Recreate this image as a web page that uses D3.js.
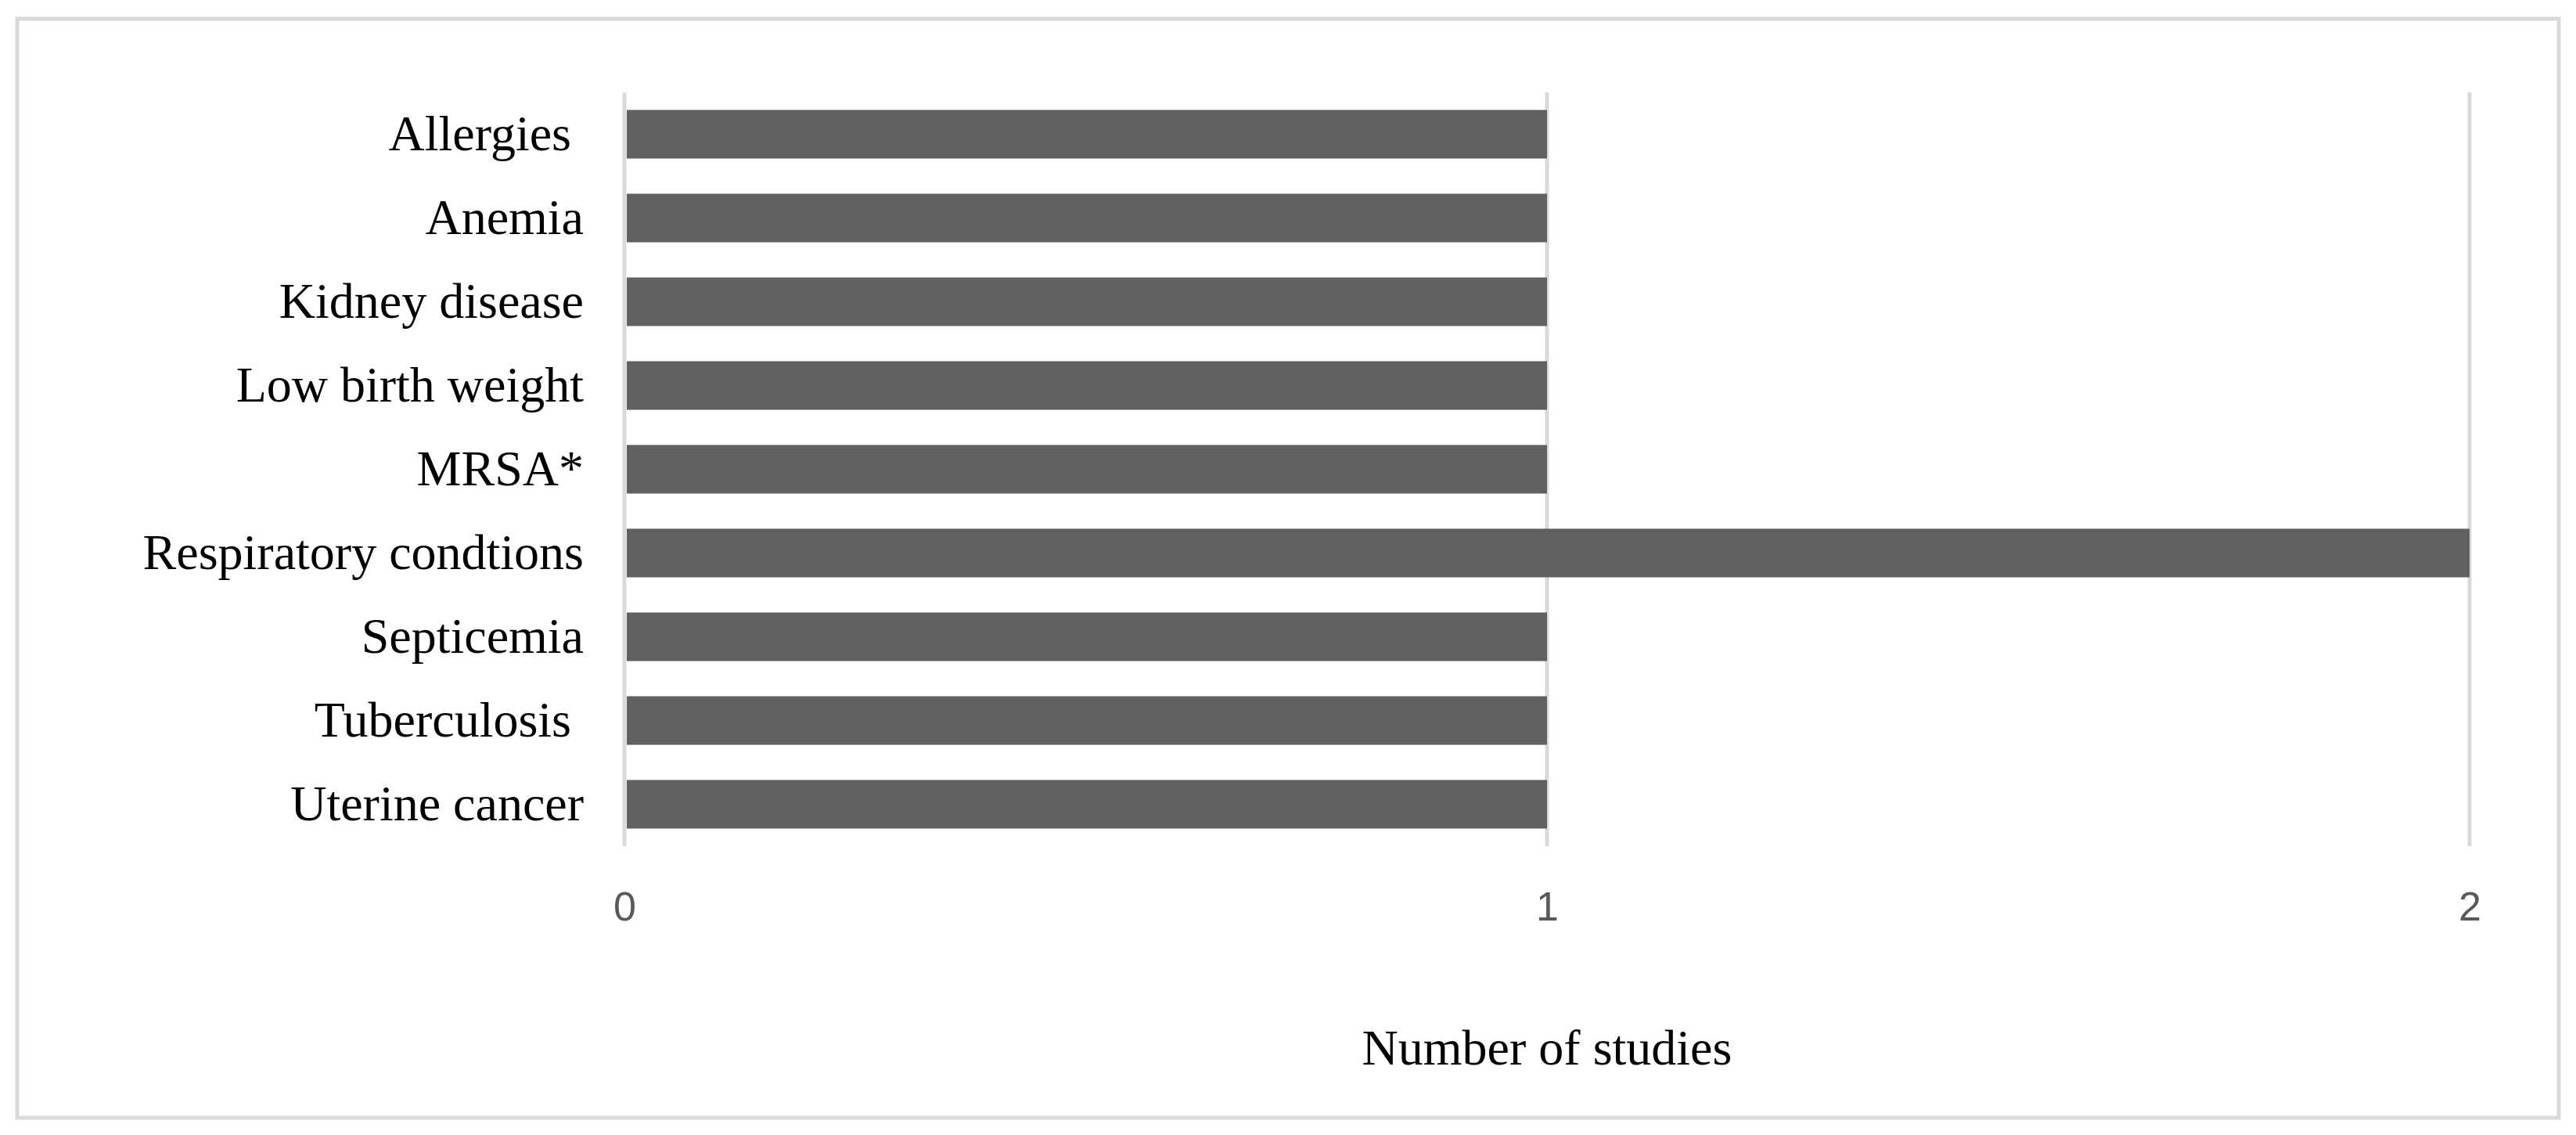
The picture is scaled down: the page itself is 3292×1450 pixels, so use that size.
<!DOCTYPE html>
<html>
<head>
<meta charset="utf-8">
<script src="https://cdn.jsdelivr.net/npm/d3@7"></script>
<style>body{margin:0;background:#fff;}</style>
</head>
<body>
<div id="chart"></div>
<script>
// data
var conditions = ["Allergies ", "Anemia", "Kidney disease", "Low birth weight", "MRSA*",
    "Respiratory condtions", "Septicemia", "Tuberculosis ", "Uterine cancer"];
var studies = [1, 1, 1, 1, 1, 2, 1, 1, 1];
var xTicks = [0, 1, 2];

var svgWidth = 3292, svgHeight = 1450;
var margins = {top: 118, right: 136, bottom: 369, left: 798};
var chartWidth = svgWidth - margins.left - margins.right;
var chartHeight = svgHeight - margins.top - margins.bottom;

var svg = d3.select("#chart").append("svg")
    .attr("width", svgWidth)
    .attr("height", svgHeight);

// outer frame
svg.append("rect")
    .attr("x", 22).attr("y", 24)
    .attr("width", 3248).attr("height", 1404)
    .attr("fill", "none").attr("stroke", "#d9d9d9").attr("stroke-width", 5);

var chartGroup = svg.append("g")
    .attr("transform", `translate(${margins.left}, ${margins.top})`);

var xscale = d3.scaleLinear().domain([0, 2]).range([0, chartWidth]);
var yscale = d3.scaleBand().domain(conditions).range([0, chartHeight]).paddingInner(0.42).paddingOuter(0.21);

// gridlines
chartGroup.selectAll(".grid").data(xTicks).enter().append("line")
    .attr("x1", d => xscale(d)).attr("x2", d => xscale(d))
    .attr("y1", 0).attr("y2", chartHeight)
    .attr("stroke", "#d9d9d9").attr("stroke-width", 5);

// bars
chartGroup.selectAll(".bar").data(studies).enter().append("rect")
    .attr("x", xscale(0) + 3)
    .attr("y", (d, i) => yscale(conditions[i]))
    .attr("width", d => xscale(d) - xscale(0) - 3)
    .attr("height", yscale.bandwidth())
    .attr("fill", "#606060");

// category labels
var yAxis = d3.axisLeft(yscale).tickSize(0).tickPadding(52);
var yg = chartGroup.append("g").call(yAxis);
yg.select(".domain").remove();
yg.selectAll("text")
    .style("font-family", "'Liberation Serif', serif")
    .style("font-size", "64px")
    .attr("fill", "#000")
    .attr("xml:space", "preserve");

// x axis
var xAxis = d3.axisBottom(xscale).tickValues(xTicks).tickSize(0).tickPadding(58).tickFormat(d3.format("d"));
var xg = chartGroup.append("g").attr("transform", `translate(0, ${chartHeight})`).call(xAxis);
xg.select(".domain").remove();
xg.selectAll("text")
    .style("font-family", "'Liberation Sans', Arial, sans-serif")
    .style("font-size", "52px")
    .attr("fill", "#595959");

// axis title
svg.append("text")
    .attr("x", margins.left + xscale(1))
    .attr("y", 1360)
    .attr("text-anchor", "middle")
    .style("font-family", "'Liberation Serif', serif")
    .style("font-size", "64px")
    .text("Number of studies");
</script>
</body>
</html>
